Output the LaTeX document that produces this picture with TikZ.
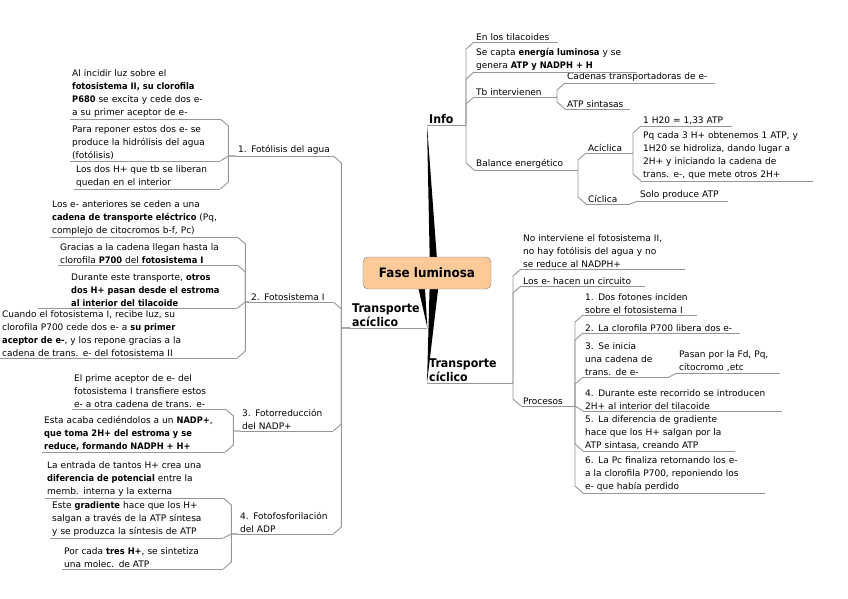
\documentclass[tikz,border=0pt]{standalone}
\usepackage{fontspec}
\setmainfont{DejaVu Sans}[BoldFeatures={FakeStretch=0.92}]
\usetikzlibrary{backgrounds}
\definecolor{faseorange}{RGB}{252,201,152}
\definecolor{lnkgray}{RGB}{150,150,150}
\hyphenpenalty=10000
\exhyphenpenalty=10000
\tikzset{
  lnk/.style={draw=lnkgray, line width=0.9pt},
  topic/.style={anchor=south west, inner xsep=2pt, inner ysep=1pt, align=left,
    text width=#1pt, font=\fontsize{9}{13}\selectfont},
  branch/.style={anchor=south west, inner xsep=2pt, inner ysep=1pt, align=left,
    text width=#1pt, font=\fontsize{12}{14}\selectfont\bfseries},
}
\begin{document}
\begin{tikzpicture}[x=1pt, y=-1pt]
    \useasboundingbox (0,0) rectangle (848,599);
    \node[draw=gray, fill=faseorange, rounded corners=5pt, minimum width=128pt, minimum height=32pt,
      font=\fontsize{13}{16}\selectfont\bfseries] (fase) at (427,273) {Fase luminosa};

    % transporte aciclico
    \node[branch=73] (tacic) at (350,328) {Transporte\\acíclico};
    \node[topic=93] (fot1) at (236,156) {1. Fotólisis del agua};
    \node[topic=146] (a11) at (70,119) {Al incidir luz sobre el\\\textbf{fotosistema II, su clorofila}\\\textbf{P680} se excita y cede dos e-\\a su primer aceptor de e-};
    \node[topic=146] (a12) at (70,161) {Para reponer estos dos e- se\\produce la hidrólisis del agua\\(fotólisis)};
    \node[topic=142] (a13) at (74,189) {Los dos H+ que tb se liberan\\quedan en el interior};
    \node[topic=80] (fot2) at (249,302) {2. Fotosistema I};
    \node[topic=183] (a21) at (50,237) {Los e- anteriores se ceden a una\\\textbf{cadena de transporte eléctrico} (Pq,\\complejo de citocromos b-f, Pc)};
    \node[topic=175] (a22) at (58,265) {Gracias a la cadena llegan hasta la\\clorofila \textbf{P700} del \textbf{fotosistema I}};
    \node[topic=164] (a23) at (69,308) {Durante este transporte, \textbf{otros}\\\textbf{dos H+ pasan desde el estroma}\\\textbf{al interior del tilacoide}};
    \node[topic=233] (a24) at (0,358) {Cuando el fotosistema I, recibe luz, su\\clorofila P700 cede dos e- a \textbf{su primer}\\\textbf{aceptor de e-}, y los repone gracias a la\\cadena de trans. e- del fotosistema II};
    \node[topic=89] (fot3) at (240,431) {3. Fotorreducción\\del NADP+};
    \node[topic=149] (a31) at (72,409) {El prime aceptor de e- del\\fotosistema I transfiere estos\\e- a otra cadena de trans. e-};
    \node[topic=179] (a32) at (42,452) {Esta acaba cediéndolos a un \textbf{NADP+},\\\textbf{que toma 2H+ del estroma y se}\\\textbf{reduce, formando NADPH + H+}};
    \node[topic=91] (fot4) at (238,534) {4. Fotofosforilación\\del ADP};
    \node[topic=174] (a41) at (45,498) {La entrada de tantos H+ crea una\\\textbf{diferencia de potencial} entre la\\memb. interna y la externa};
    \node[topic=169] (a42) at (50,538) {Este \textbf{gradiente} hace que los H+\\salgan a través de la ATP síntesa\\y se produzca la síntesis de ATP};
    \node[topic=157] (a43) at (62,569) {Por cada \textbf{tres H+}, se sintetiza\\una molec. de ATP};

    % info
    \node[branch=35] (info) at (427,125) {Info};
    \node[topic=80] (inf1) at (474,42) {En los tilacoides};
    \node[topic=159] (inf2) at (474,72) {Se capta \textbf{energía luminosa} y se\\genera \textbf{ATP y NADPH + H}};
    \node[topic=79] (inf3) at (474,97) {Tb intervienen};
    \node[topic=146] (tb1) at (565,83) {Cadenas transportadoras de e-};
    \node[topic=61] (tb2) at (565,109) {ATP sintasas};
    \node[topic=100] (inf4) at (474,170) {Balance energético};
    \node[topic=43] (bacic) at (586,153) {Acíclica};
    \node[topic=40] (bcicl) at (586,204) {Cíclica};
    \node[topic=87] (aci1) at (641,126) {1 H20 = 1,33 ATP};
    \node[topic=168] (aci2) at (641,181) {Pq cada 3 H+ obtenemos 1 ATP, y\\1H20 se hidroliza, dando lugar a\\2H+ y iniciando la cadena de\\trans. e-, que mete otros 2H+};
    \node[topic=86] (cic1) at (638,201) {Solo produce ATP};

    % transporte ciclico
    \node[branch=82] (tcicl) at (427,383) {Transporte\\cíclico};
    \node[topic=160] (tc1) at (521,269) {No interviene el fotosistema II,\\no hay fotólisis del agua y no\\se reduce al NADPH+};
    \node[topic=120] (tc2) at (521,286) {Los e- hacen un circuito};
    \node[topic=50] (proc) at (521,406) {Procesos};
    \node[topic=110] (pr1) at (583,315) {1. Dos fotones inciden\\sobre el fotosistema I};
    \node[topic=153] (pr2) at (583,333) {2. La clorofila P700 libera dos e-};
    \node[topic=82] (pr3) at (583,377) {3. Se inicia\\una cadena de\\trans. de e-};
    \node[topic=99] (pr3a) at (677,373) {Pasan por la Fd, Pq,\\citocromo ,etc};
    \node[topic=195] (pr4) at (583,411) {4. Durante este recorrido se introducen\\2H+ al interior del tilacoide};
    \node[topic=148] (pr5) at (583,451) {5. La diferencia de gradiente\\hace que los H+ salgan por la\\ATP sintasa, creando ATP};
    \node[topic=178] (pr6) at (583,493) {6. La Pc finaliza retornando los e-\\a la clorofila P700, reponiendo los\\e- que había perdido};

    % underlines
    \foreach \n in {tacic,fot1,a11,a12,a13,fot2,a21,a22,a23,a24,fot3,a31,a32,fot4,a41,a42,a43,
        info,inf1,inf2,inf3,tb1,tb2,inf4,bacic,bcicl,aci1,aci2,cic1,
        tcicl,tc1,tc2,proc,pr1,pr2,pr3,pr3a,pr4,pr5,pr6}
        \draw[lnk] (\n.south west) -- (\n.south east);
    \draw[lnk] (a23.south west) -- ++(-31,0);

    % left side links
    \foreach \c/\p/\d in {a11/fot1/7, a12/fot1/-5, a13/fot1/-7, a21/fot2/7, a22/fot2/7, a23/fot2/-6,
        a24/fot2/-7, a31/fot3/7, a32/fot3/-7, a41/fot4/7, a42/fot4/-4, a43/fot4/-7,
        fot1/tacic/7, fot2/tacic/7, fot3/tacic/-7, fot4/tacic/-7}
        \draw[lnk] (\c.south east) -- ++(8,\d) |- (\p.south west);

    % right side links
    \foreach \c/\p/\d in {inf1/info/7, inf2/info/7, inf3/info/7, inf4/info/-7, tb1/inf3/7, tb2/inf3/-7,
        bacic/inf4/7, bcicl/inf4/-7, aci1/bacic/7, aci2/bacic/-7, cic1/bcicl/3,
        tc1/tcicl/7, tc2/tcicl/7, proc/tcicl/-7, pr1/proc/7, pr2/proc/7, pr3/proc/7,
        pr4/proc/-5, pr5/proc/-7, pr6/proc/-7, pr3a/pr3/4}
        \draw[lnk] (\c.south west) -- ++(-8,\d) |- (\p.south east);

    % main branches
    \begin{pgfonlayer}{background}
        \fill (info.south west) -- ([xshift=3pt]fase.center) -- ([xshift=11pt]fase.center) -- cycle;
        \fill (tacic.south east) -- ([xshift=-12pt]fase.center) -- ([xshift=-3pt]fase.center) -- cycle;
        \fill (tcicl.south west) -- ([xshift=3pt]fase.center) -- ([xshift=13pt]fase.center) -- cycle;
    \end{pgfonlayer}
\end{tikzpicture}
\end{document}
